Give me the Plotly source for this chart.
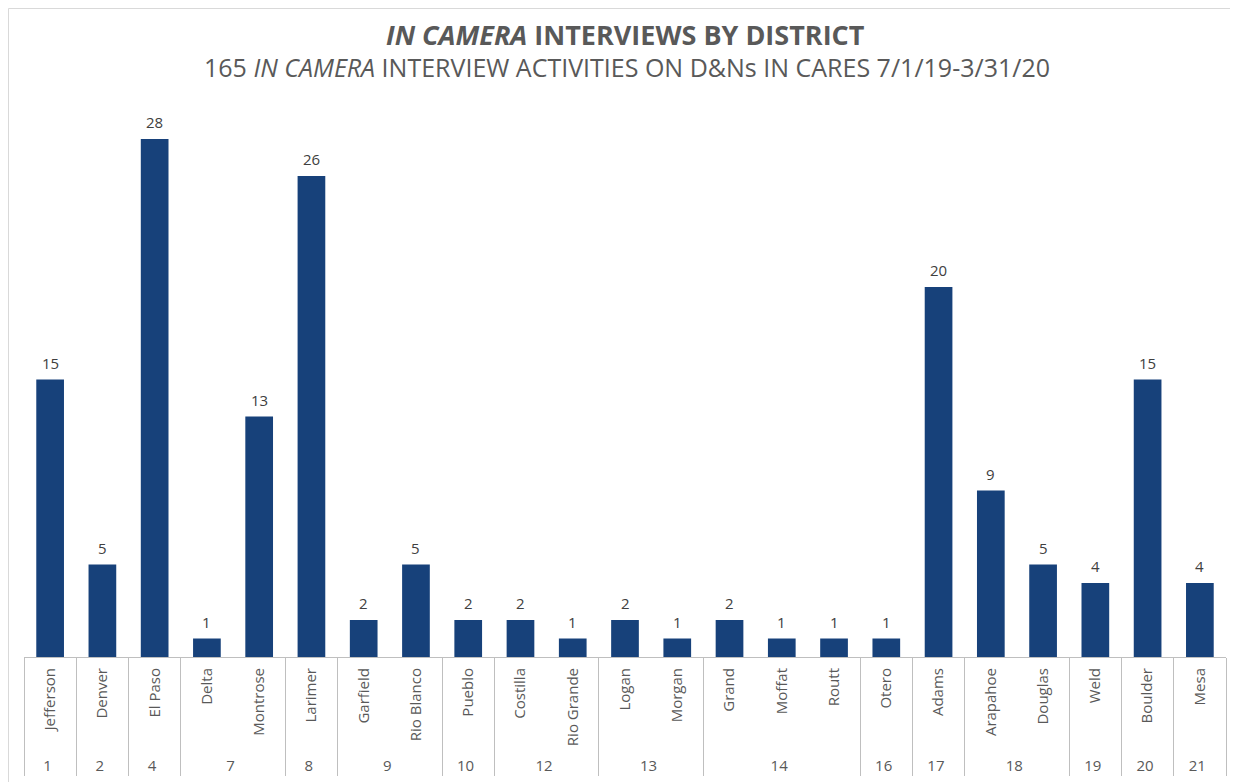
import plotly.graph_objects as go

districts = ["1", "2", "4", "7", "7", "8", "9", "9", "10", "12", "12", "13", "13",
             "14", "14", "14", "16", "17", "18", "18", "19", "20", "21"]
counties = ["Jefferson", "Denver", "El Paso", "Delta", "Montrose", "Larimer", "Garfield",
            "Rio Blanco", "Pueblo", "Costilla", "Rio Grande", "Logan", "Morgan", "Grand",
            "Moffat", "Routt", "Otero", "Adams", "Arapahoe", "Douglas", "Weld", "Boulder", "Mesa"]
interviews = [15, 5, 28, 1, 13, 26, 2, 5, 2, 2, 1, 2, 1, 2, 1, 1, 1, 20, 9, 5, 4, 15, 4]

# page has an 8px body margin, so the figure is sized to fit the window
W, H = 1230, 774
ml, mr, mt, mb = 16, 12, 94, 125
pw, ph = W - ml - mr, H - mt - mb

FONT = "Open Sans"
GREY = "#595959"

fig = go.Figure(go.Bar(
    x=[districts, counties],
    y=interviews,
    marker=dict(color="#17417A", line=dict(width=0)),
    hoverinfo="x+y",
))

value_labels = [
    dict(x=i, y=v, xref="x", yref="y", text=str(v), showarrow=False,
         xanchor="center", yanchor="bottom", yshift=5,
         font=dict(family=FONT, size=15, color="#404040"))
    for i, v in enumerate(interviews)
]

fig.update_layout(
    width=W, height=H,
    margin=dict(l=ml, r=mr, t=mt, b=mb, pad=0, autoexpand=False),
    paper_bgcolor="white", plot_bgcolor="white",
    bargap=0.47,
    showlegend=False,
    font=dict(family=FONT, color=GREY),
    xaxis=dict(
        type="multicategory",
        automargin=False,
        showline=True, linecolor="#BFBFBF", linewidth=1,
        showdividers=True, dividercolor="#BFBFBF", dividerwidth=1,
        ticks="", tickangle=-90, ticklabelstandoff=4,
        tickfont=dict(family=FONT, size=15, color=GREY),
        showgrid=False,
    ),
    yaxis=dict(range=[0, 30], visible=False, showgrid=False, zeroline=False,
               automargin=False),
    shapes=[dict(type="rect", xref="paper", yref="paper",
                 x0=(0.5 - ml) / pw, x1=1.2, y0=-0.5, y1=(H - mb - 0.5) / ph,
                 line=dict(color="#D9D9D9", width=1), fillcolor="rgba(0,0,0,0)", layer="below")],
    annotations=value_labels + [
        dict(text="<b><i>IN CAMERA</i> INTERVIEWS BY DISTRICT</b>",
             xref="paper", yref="paper", x=(617 - ml) / pw, y=(H - mb - 27) / ph,
             xanchor="center", yanchor="middle", showarrow=False,
             font=dict(family=FONT, size=27, color=GREY)),
        dict(text="165 <i>IN CAMERA</i> INTERVIEW ACTIVITIES ON D&Ns IN CARES 7/1/19-3/31/20",
             xref="paper", yref="paper", x=(619 - ml) / pw, y=(H - mb - 59) / ph,
             xanchor="center", yanchor="middle", showarrow=False,
             font=dict(family=FONT, size=25, color=GREY)),
    ],
)

fig.write_html("out.html")
